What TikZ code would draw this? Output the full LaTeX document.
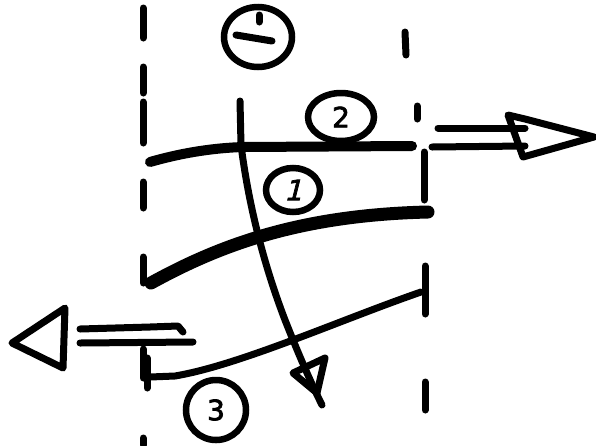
\documentclass[tikz,border=0pt]{standalone}
\usepackage{fontspec}
\newfontfamily\handfont[FakeBold=2.5]{DejaVu Sans}
\newfontfamily\handslant[FakeBold=2.5,FakeSlant=0.25]{DejaVu Sans}
\usetikzlibrary{shapes.geometric}
\begin{document}
\begin{tikzpicture}[x=1pt,y=-1pt,
  pen/.style={line width=7pt,line cap=round,line join=round},
  heavy/.style={line width=13pt,line cap=round,line join=round},
  mid/.style={line width=10pt,line cap=round,line join=round},
  dashpiece/.style={line width=7pt,line cap=round},
  tag/.style={ellipse,draw,line width=6.5pt,inner sep=0pt,font=\fontsize{28}{28}\selectfont\handfont}]
\useasboundingbox (0,0) rectangle (596,445);
% dashed boundary lines
\foreach \a/\b in {8/38,67/93,102/143,182/208,257/283,349/378,438/445}
  \draw[dashpiece] (143,\a) -- (143,\b);
\draw[dashpiece] (405,32) -- (406,55);
\draw[dashpiece] (417,106) -- (417,119);
\draw[dashpiece] (424,152) -- (424,200);
\draw[dashpiece] (425,266) -- (425,314);
\draw[dashpiece] (425,382) -- (425,410);
% labels
\node[tag,minimum width=68pt,minimum height=60pt] (cm) at (258,37) {};
\draw[pen] (236,35) -- (272,41);
\draw[pen] (259,15) -- (259,22);
\node[tag,minimum width=66pt,minimum height=48pt] (c2) at (341,117) {2};
\node[tag,minimum width=54pt,minimum height=44pt] (c1) at (293,190) {\handslant 1};
\node[tag,minimum width=60pt,minimum height=60pt] (c3) at (216,410) {3};
% coordinates
\coordinate (l2a) at (150,162);
\coordinate (l2b) at (243,147);
\coordinate (l2c) at (412,146);
\coordinate (l1a) at (151,283);
\coordinate (l1b) at (428,212);
\coordinate (l3t) at (147,358);
\coordinate (l3a) at (147,388);
\coordinate (l3c) at (150,377);
\coordinate (l3d) at (175,376);
\coordinate (l3b) at (421,292);
\coordinate (va) at (240,101);
\coordinate (vb) at (241,145);
\coordinate (vc) at (285,320);
\coordinate (vd) at (322,405);
% lines
\draw[mid] (l2a) .. controls (185,152) and (215,148) .. (l2b) -- (l2c);
\draw[heavy] (l1a) .. controls (220,245) and (300,215) .. (l1b);
\draw[pen] (l3t) -- (l3a);
\draw[pen] (l3c) -- (l3d) .. controls (240,365) and (340,320) .. (l3b);
% vertical curved arrow
\draw[pen] (va) -- (vb) .. controls (248,200) and (262,260) .. (vc) .. controls (300,358) and (312,385) .. (vd);
\draw[pen] (293,373) -- (325,358) -- (317,393) -- cycle;
% right arrow
\coordinate (ra1) at (438,128);
\coordinate (ra2) at (432,147);
\coordinate (rt1) at (525,119);
\coordinate (rt2) at (594,137);
\coordinate (rt3) at (523,157);
\draw[pen] (ra1) -- (525,128);
\draw[pen] (ra2) -- (525,146);
\draw[pen] (508,115) -- (rt1) -- (rt2) -- (rt3) -- cycle;
% left arrow
\coordinate (lt1) at (12,343);
\coordinate (lt2) at (65,308);
\coordinate (lt3) at (63,368);
\draw[pen] (lt2) -- (lt1) -- (lt3) -- cycle;
\draw[pen] (80,329) -- (150,327) -- (178,326) -- (183,332);
\draw[pen] (80,343) -- (193,342);
\end{tikzpicture}
\end{document}
